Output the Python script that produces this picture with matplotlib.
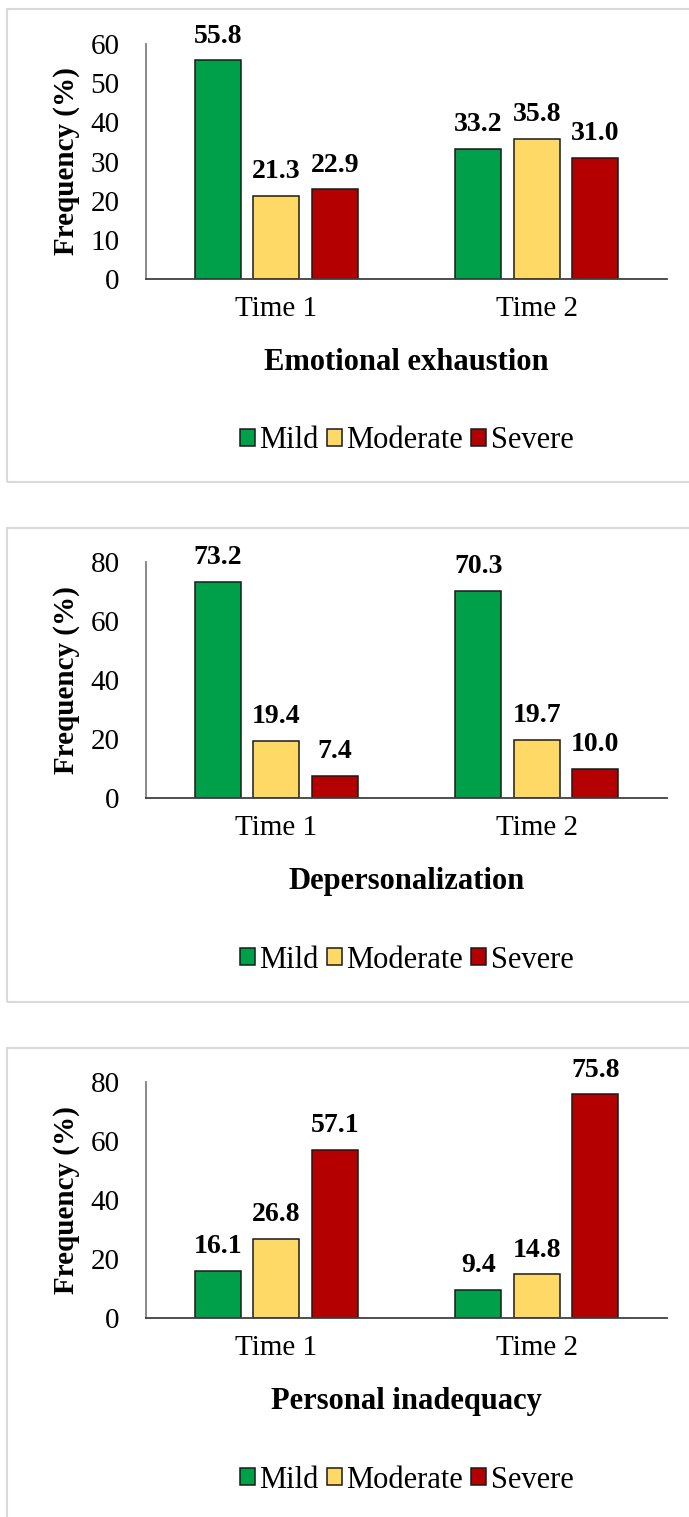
import matplotlib
matplotlib.use('Agg')
import matplotlib.pyplot as plt
import numpy as np
from matplotlib.patches import Rectangle

plt.rcParams['font.family'] = ['Liberation Serif', 'DejaVu Serif']

# data
categories = ['Time 1', 'Time 2']
levels = ['Mild', 'Moderate', 'Severe']
colors = ['#00A04A', '#FFD966', '#B40000']

ee_mild = [55.8, 33.2]
ee_moderate = [21.3, 35.8]
ee_severe = [22.9, 31.0]

dp_mild = [73.2, 70.3]
dp_moderate = [19.4, 19.7]
dp_severe = [7.4, 10.0]

pi_mild = [16.1, 9.4]
pi_moderate = [26.8, 14.8]
pi_severe = [57.1, 75.8]

panels = [
    ('Emotional exhaustion', [ee_mild, ee_moderate, ee_severe], 60, 10),
    ('Depersonalization', [dp_mild, dp_moderate, dp_severe], 80, 20),
    ('Personal inadequacy', [pi_mild, pi_moderate, pi_severe], 80, 20),
]

W, H = 689, 1517
fig = plt.figure(figsize=(W / 100, H / 100), dpi=100)

# pixel layout: (box top, box bottom, axis top, axis bottom)
layout = [(9, 482, 44, 279), (528, 1002, 562, 798), (1048, 1530, 1082, 1318)]
ax_left, ax_right = 146, 667

for (title, series, ymax, ystep), (btop, bbot, atop, abot) in zip(panels, layout):
    fig.patches.append(Rectangle((7 / W, 1 - bbot / H), 1.0, (bbot - btop) / H,
                                 transform=fig.transFigure, fill=False,
                                 edgecolor='#d9d9d9', linewidth=1.5))
    ax = fig.add_axes([ax_left / W, 1 - abot / H, (ax_right - ax_left) / W, (abot - atop) / H])
    x = np.arange(len(categories))
    step = 0.225
    width = 0.177
    for i, (vals, lab, col) in enumerate(zip(series, levels, colors)):
        bars = ax.bar(x + (i - 1) * step, vals, width, color=col, edgecolor='#1a1a1a',
                      linewidth=1.1, label=lab)
        for b, v in zip(bars, vals):
            ax.annotate(f'{v:.1f}', (b.get_x() + b.get_width() / 2, v),
                        xytext=(0, 17.5), textcoords='offset points',
                        ha='center', va='center', fontsize=20, fontweight='bold')
    ax.set_xlim(-0.5, 1.5)
    ax.set_ylim(0, ymax)
    ax.set_yticks(np.arange(0, ymax + 1, ystep))
    ax.set_xticks(x)
    ax.set_xticklabels(categories)
    ax.tick_params(axis='both', length=0, labelsize=21)
    ax.tick_params(axis='y', pad=19)
    ax.tick_params(axis='x', pad=12.5)
    for s in ['top', 'right']:
        ax.spines[s].set_visible(False)
    ax.spines['left'].set_color('#808080')
    ax.spines['left'].set_linewidth(1.3)
    ax.spines['bottom'].set_color('#404040')
    ax.spines['bottom'].set_linewidth(1.3)
    ax.set_ylabel('Frequency (%)', fontsize=21, fontweight='bold')
    ax.yaxis.set_label_coords(-(146 - 80) / (ax_right - ax_left), 0.5)
    ah = abot - atop
    ax.text(0.5, -83 / ah, title, transform=ax.transAxes, ha='center', va='center',
            fontsize=22, fontweight='bold')
    ax.legend(loc='center', bbox_to_anchor=(0.5, -162 / ah), ncol=3, frameon=False,
              fontsize=22, handlelength=0.5, handleheight=0.5, handletextpad=0.15,
              columnspacing=0.25, borderpad=0)

fig.savefig('out.png', dpi=100)
